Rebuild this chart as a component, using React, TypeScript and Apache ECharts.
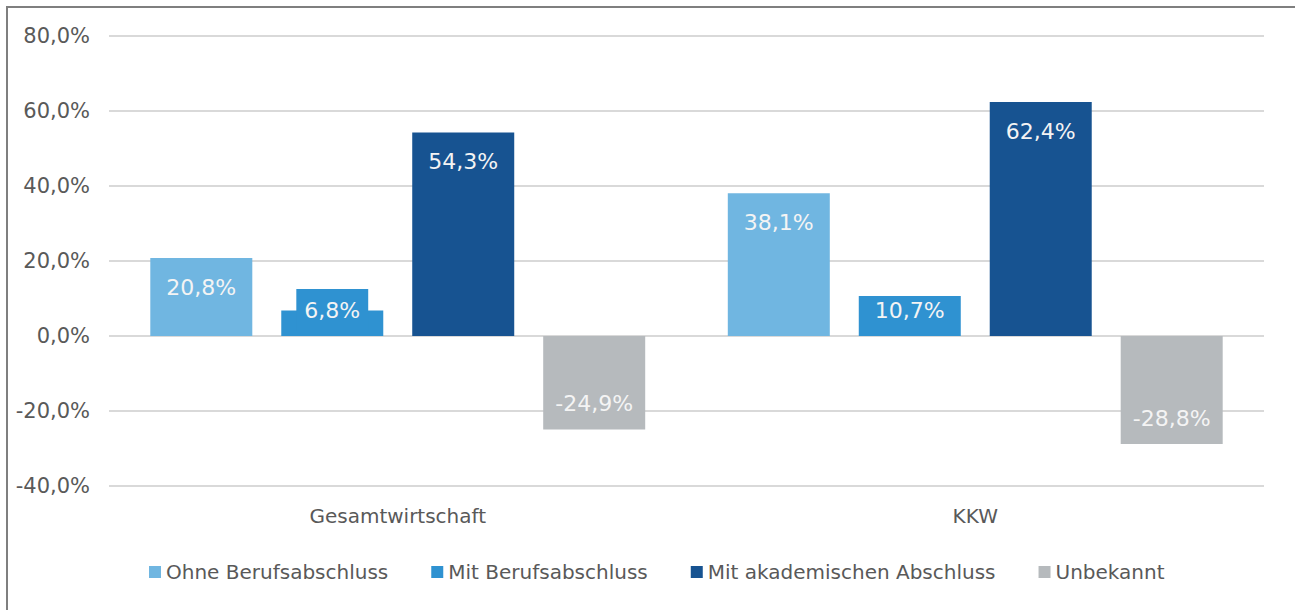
import React, { useEffect, useRef } from "react";
import * as echarts from "echarts";

const categories = ["Gesamtwirtschaft", "KKW"];
const seriesNames = ["Ohne Berufsabschluss", "Mit Berufsabschluss", "Mit akademischen Abschluss", "Unbekannt"];
const ohneBerufsabschluss = [20.8, 38.1];
const mitBerufsabschluss = [6.8, 10.7];
const mitAkademischem = [54.3, 62.4];
const unbekannt = [-24.9, -28.8];
const colors = ["#70B6E1", "#2F92D1", "#175391", "#B6BABD"];

const FONT = "DejaVu Sans";
const fmt = (v: number) => v.toFixed(1).replace(".", ",") + "%";

function makeItem(v: number, color: string) {
  const px = Math.abs(v) * 3.75;
  let label: any;
  if (v < 0) {
    label = { position: "insideBottom", distance: 15 };
  } else if (px < 30) {
    label = {
      position: "insideBottom",
      distance: 5,
      backgroundColor: color,
      padding: [10, 8, 10, 8],
    };
  } else if (px < 50) {
    label = { position: "insideBottom", distance: 15 };
  } else {
    label = { position: "insideTop", distance: 18 };
  }
  return { value: v, label };
}

export default function App() {
  const ref = useRef<HTMLDivElement>(null);
  useEffect(() => {
    if (!ref.current) return;
    const chart = echarts.init(ref.current, undefined, { renderer: "svg" });
    const all = [ohneBerufsabschluss, mitBerufsabschluss, mitAkademischem, unbekannt];
    chart.setOption({
      animation: false,
      color: colors,
      grid: { left: 109, right: 31, top: 36, bottom: 124 },
      graphic: [
        {
          type: "rect",
          shape: { x: 7, y: 7, width: 1400, height: 700 },
          style: { fill: "none", stroke: "#7F7F7F", lineWidth: 2 },
          silent: true,
        },
      ],
      legend: {
        left: 144,
        top: 557,
        itemWidth: 12,
        itemHeight: 12,
        itemGap: 43,
        icon: "rect",
        textStyle: { fontFamily: FONT, fontSize: 20, color: "#595959" },
        data: seriesNames,
      },
      xAxis: {
        type: "category",
        data: categories,
        axisLine: { show: false, onZero: false },
        axisTick: { show: false },
        axisLabel: { fontFamily: FONT, fontSize: 20, color: "#595959", margin: 20 },
      },
      yAxis: {
        type: "value",
        min: -40,
        max: 80,
        interval: 20,
        axisLine: { show: false },
        axisTick: { show: false },
        axisLabel: { fontFamily: FONT, fontSize: 21, color: "#595959", margin: 19, formatter: (v: number) => fmt(v) },
        splitLine: { lineStyle: { color: "#D9D9D9", width: 2 } },
      },
      series: seriesNames.map((name, i) => ({
        name,
        type: "bar",
        barWidth: 102,
        barGap: "28.4%",
        data: all[i].map((v) => makeItem(v, colors[i])),
        label: {
          show: true,
          fontFamily: FONT,
          fontSize: 22,
          color: "#F4F4F4",
          formatter: (p: any) => fmt(p.value),
        },
      })),
    });
    return () => chart.dispose();
  }, []);
  return (
    <div
      ref={ref}
      style={{ position: "fixed", left: 0, top: 0, width: 1295, height: 610, background: "#fff" }}
    />
  );
}
